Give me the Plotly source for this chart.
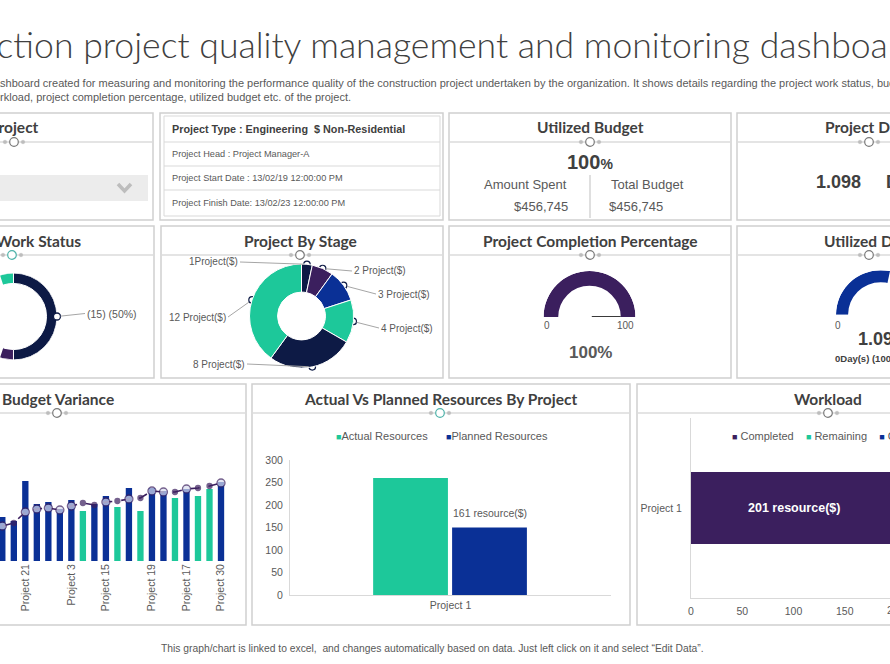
import numpy as np
import plotly.graph_objects as go

# ======================= DATA =======================
title_text = "Construction project quality management and monitoring dashboard"
subtitle_lines = [
    "Dashboard created for measuring and monitoring the performance quality of the construction project undertaken by the organization. It shows details regarding the project work status, budget variance,",
    "workload, project completion percentage, utilized budget etc. of the project.",
]
footnote_text = "This graph/chart is linked to excel,  and changes automatically based on data. Just left click on it and select \u201cEdit Data\u201d."

project_info_rows = [
    "Project Type : Engineering  $ Non-Residential",
    "Project Head : Project Manager-A",
    "Project Start Date : 13/02/19 12:00:00 PM",
    "Project Finish Date: 13/02/23 12:00:00 PM",
]

amount_spent = 456745
total_budget = 456745
project_duration = 1.098
utilized_duration = 1.098
completion_pct = 100
gauge_min, gauge_max = 0, 100

work_status_labels = ["Completed", "In Progress", "Not Started"]
work_status_values = [15, 5, 10]

stage_names = ["Initiation", "Planning", "Design", "Procurement", "Construction", "Closure"]
stage_values = [1, 2, 3, 4, 8, 12]
stage_text = ["1Project($)", "2 Project($)", "3 Project($)", "4 Project($)", "8 Project($)", "12 Project($)"]

bv_projects = ["Project 12", "Project 8", "Project 21", "Project 5", "Project 26", "Project 9",
               "Project 3", "Project 22", "Project 11", "Project 15", "Project 28", "Project 6",
               "Project 24", "Project 19", "Project 2", "Project 27", "Project 17", "Project 13",
               "Project 4", "Project 30"]
bv_actual = [44, 40, 80, 57, 59, 52, 61, 50, 57, 65, 54, 73, 50, 73, 70, 63, 72, 65, 72, 79]
bv_planned = [35, 38, 49, 52, 53, 51, 55, 58, 56, 59, 60, 62, 63, 70, 69, 69, 72, 73, 75, 78]
bv_tick_projects = ["Project 21", "Project 3", "Project 15", "Project 19", "Project 17", "Project 30"]

res_projects = ["Project 1"]
res_series = ["Actual Resources", "Planned Resources"]
res_actual = [260]
res_planned = [150]
res_planned_label = [161]
res_ticks = [0, 50, 100, 150, 200, 250, 300]

wl_projects = ["Project 1"]
wl_series = ["Completed", "Remaining", "Capacity"]
wl_completed = [201]
wl_remaining = [60]
wl_capacity = [40]
wl_ticks = [0, 50, 100, 150, 200]

# ======================= STYLE =======================
W, H = 890, 664
NAVY = "#0d1a45"
PURPLE = "#3b1f5e"
BLUE = "#0a3096"
TEAL = "#1dc89a"
GRAY = "#595959"
DARK = "#404040"
BORDER = "#d0d0d0"
DIVIDER = "#c9c9c9"
ORN_GRAY = "#7a7a7a"
ORN_TEAL = "#4fb3aa"
ARIAL = "Liberation Sans, Arial, sans-serif"
GOTHIC = "Lato, sans-serif"

ws_colors = [NAVY, PURPLE, TEAL]
stage_colors = [NAVY, PURPLE, BLUE, TEAL, NAVY, TEAL]
bv_big_marker_idx = {0, 2, 3, 4, 5, 6, 9, 11, 13, 14, 16, 19}


def X(px):
    return px / W


def Y(py):
    return 1 - py / H


shapes, annotations = [], []


def add_rect(x0, y0, x1, y1, line=BORDER, fill="white", lw=1.5):
    shapes.append(dict(type="rect", xref="paper", yref="paper", x0=X(x0), x1=X(x1), y0=Y(y1), y1=Y(y0),
                       line=dict(color=line, width=lw), fillcolor=fill, layer="below"))


def add_line(x0, y0, x1, y1, color=DIVIDER, lw=1):
    shapes.append(dict(type="line", xref="paper", yref="paper", x0=X(x0), x1=X(x1), y0=Y(y0), y1=Y(y1),
                       line=dict(color=color, width=lw), layer="below"))


def add_circle(cx, cy, r, fill, line, lw=1):
    shapes.append(dict(type="circle", xref="paper", yref="paper", x0=X(cx - r), x1=X(cx + r),
                       y0=Y(cy + r), y1=Y(cy - r), fillcolor=fill,
                       line=dict(color=line, width=lw), layer="below"))


def add_text(x, y, s, size=11, color=GRAY, family=ARIAL, weight=None, xanchor="center", yanchor="middle"):
    font = dict(size=size, color=color, family=family)
    if weight:
        font["weight"] = weight
    annotations.append(dict(xref="paper", yref="paper", x=X(x), y=Y(y), text=s, showarrow=False,
                            font=font, xanchor=xanchor, yanchor=yanchor))


def ornament(cx, cy, color):
    for d in (-9, 9):
        add_circle(cx + d, cy, 1.8, "#bdbdbd", "#bdbdbd", 0.5)
    add_circle(cx, cy, 4.3, "white", color, 1.2)


# ---------------- header ----------------
add_text(-128, 45, title_text, size=35.6, color=DARK, family=GOTHIC, weight=300, xanchor="left")
add_text(-17, 90, "<br>".join(subtitle_lines), size=11, color=GRAY, xanchor="left")
annotations[-1]["align"] = "left"
add_text(432, 648, footnote_text, size=10.3, color=GRAY)

# ---------------- panels ----------------
PANELS = [
    dict(box=(-5, 113, 153, 220), title="Project", tx=14, ox=14, ty=127, dy=142, oc=ORN_GRAY),
    dict(box=(160, 113, 443, 220)),
    dict(box=(449, 113, 731, 220), title="Utilized Budget", tx=590, ox=590, ty=127, dy=142, oc=ORN_GRAY),
    dict(box=(737, 113, 900, 220), title="Project Duration", tx=823, ox=869, ty=127, dy=142, oc=ORN_GRAY, left=True),
    dict(box=(-5, 226, 154, 378), title="Project Work Status", tx=12, ox=12, ty=241, dy=255, oc=ORN_TEAL),
    dict(box=(161, 226, 443, 378), title="Project By Stage", tx=300, ox=300, ty=241, dy=255, oc=ORN_GRAY),
    dict(box=(449, 226, 731, 378), title="Project Completion Percentage", tx=590, ox=590, ty=241, dy=255, oc=ORN_GRAY),
    dict(box=(737, 226, 900, 378), title="Utilized Duration", tx=822, ox=869, ty=241, dy=255, oc=ORN_GRAY, left=True),
    dict(box=(-5, 384, 246, 625), title="Budget Variance", tx=58, ox=57, ty=399, dy=413, oc=ORN_GRAY),
    dict(box=(252, 384, 630, 625), title="Actual Vs Planned Resources By Project", tx=440, ox=440, ty=399, dy=413, oc=ORN_TEAL),
    dict(box=(637, 384, 900, 625), title="Workload", tx=828, ox=828, ty=399, dy=413, oc=ORN_GRAY),
]
for p in PANELS:
    x0, y0, x1, y1 = p["box"]
    add_rect(x0, y0, x1, y1)
    if "title" in p:
        add_line(x0 + 1, p["dy"], x1 - 1, p["dy"])
        ornament(p["ox"], p["dy"], p["oc"])
        add_text(p["tx"], p["ty"], p["title"], size=15.5, color=DARK, family=GOTHIC, weight=700,
                 xanchor="left" if p.get("left") else "center")

# Project selector
shapes.append(dict(type="rect", xref="paper", yref="paper", x0=X(-5), x1=X(148), y0=Y(201), y1=Y(175),
                   fillcolor="#ececec", line=dict(width=0), layer="below"))
shapes.append(dict(type="path", xref="paper", yref="paper",
                   path=f"M{X(118)},{Y(184)} L{X(124.5)},{Y(191)} L{X(131)},{Y(184)}",
                   line=dict(color="#bdbdbd", width=3.5), layer="below"))

# Project info table
add_rect(164, 116, 440, 216, line="#d9d9d9", lw=1)
for yy in (142, 166, 190):
    add_line(164, yy, 440, yy, color="#d9d9d9")
row_y = [129, 154, 178, 203]
for i, (txt, yy) in enumerate(zip(project_info_rows, row_y)):
    add_text(170, yy, txt, size=10.8 if i == 0 else 9.2, color=DARK if i == 0 else GRAY,
             weight=700 if i == 0 else None, xanchor="left")

# Utilized budget
add_text(590, 162, f"{amount_spent / total_budget * 100:.0f}<span style='font-size:14px'>%</span>",
         size=20, color=DARK, weight=700)
add_text(525, 184, "Amount Spent", size=13, color=GRAY)
add_text(541, 206, f"${amount_spent:,}", size=13, color=GRAY)
add_text(647, 184, "Total Budget", size=13, color=GRAY)
add_text(636, 206, f"${total_budget:,}", size=13, color=GRAY)
add_line(590, 175, 590, 218, color="#bfbfbf")

# Project duration
add_text(838, 182, f"{project_duration:.3f}", size=18, color=DARK, weight=700)
add_text(884, 182, "Day(s)", size=18, color=DARK, weight=700, xanchor="left")

# ======================= FIGURE =======================
fig = go.Figure()

# ---- Project Work Status donut (polar) ----
WS_HOLE = 0.76
ws_total = sum(work_status_values)
ws_cum = np.cumsum([0] + work_status_values[:-1])
ws_theta = [(c + v / 2) / ws_total * 360 for c, v in zip(ws_cum, work_status_values)]
ws_width = [v / ws_total * 360 for v in work_status_values]
fig.add_trace(go.Barpolar(theta=ws_theta, width=ws_width, r=[1 - WS_HOLE] * len(ws_theta), base=WS_HOLE,
                          marker=dict(color=ws_colors, line=dict(color="white", width=1)),
                          subplot="polar", showlegend=False, hoverinfo="skip"))
fig.add_trace(go.Scatterpolar(theta=[ws_theta[0]], r=[1], mode="markers", cliponaxis=False,
                              marker=dict(size=7, color="white", line=dict(color=NAVY, width=1.3)),
                              subplot="polar", showlegend=False, hoverinfo="skip"))
WS_CX, WS_CY, WS_R = 13.5, 316.5, 43.5
ang = np.radians(ws_theta[0])
mx, my = WS_CX + WS_R * np.sin(ang), WS_CY - WS_R * np.cos(ang)
annotations.append(dict(xref="paper", yref="paper", x=X(mx), y=Y(my), ax=85 - mx, ay=313.5 - my,
                        xanchor="left", showarrow=True, arrowhead=0, arrowwidth=1, arrowcolor="#a6a6a6",
                        standoff=3.5,
                        text=f"({work_status_values[0]}) ({work_status_values[0] / ws_total:.0%})",
                        font=dict(size=10.5, color=GRAY, family=ARIAL)))

# ---- Project by stage donut ----
ST_CX, ST_CY, ST_R = 301.5, 316, 52
fig.add_trace(go.Pie(labels=stage_names, values=stage_values, hole=0.46, sort=False, direction="clockwise",
                     rotation=0, textinfo="none", hoverinfo="skip", showlegend=False,
                     marker=dict(colors=stage_colors, line=dict(color="white", width=1)),
                     domain=dict(x=[X(ST_CX - ST_R), X(ST_CX + ST_R)], y=[Y(ST_CY + ST_R), Y(ST_CY - ST_R)])))
st_total = sum(stage_values)
st_cum = np.cumsum([0] + stage_values[:-1])
st_mid = [(c + v / 2) / st_total * 360 for c, v in zip(st_cum, stage_values)]
fig.add_trace(go.Scatterpolar(theta=st_mid, r=[1] * len(st_mid), mode="markers", cliponaxis=False,
                              marker=dict(size=6.5, color="white", line=dict(color=NAVY, width=1.2)),
                              subplot="polar2", showlegend=False, hoverinfo="skip"))
STAGE_LABEL_POS = [(240, 262, "right"), (352, 271, "left"), (376, 294, "left"),
                   (379, 328, "left"), (247, 364, "right"), (228, 317, "right")]
for a, lbl, (lx, ly, side) in zip(st_mid, stage_text, STAGE_LABEL_POS):
    rad = np.radians(a)
    px_, py_ = ST_CX + ST_R * np.sin(rad), ST_CY - ST_R * np.cos(rad)
    annotations.append(dict(xref="paper", yref="paper", x=X(px_), y=Y(py_), ax=lx - px_, ay=ly - py_,
                            xanchor=side, showarrow=True, arrowhead=0, arrowwidth=1, arrowcolor="#a6a6a6",
                            standoff=3.5, text=lbl, font=dict(size=10, color=GRAY, family=ARIAL)))

# ---- Completion gauge ----
G_HOLE = 0.68
frac = (completion_pct - gauge_min) / (gauge_max - gauge_min)
fig.add_trace(go.Barpolar(theta=[frac * 180 / 2], width=[frac * 180], r=[1 - G_HOLE], base=G_HOLE,
                          marker=dict(color=PURPLE, line=dict(width=0)),
                          subplot="polar3", showlegend=False, hoverinfo="skip"))
fig.add_trace(go.Scatterpolar(theta=[frac * 180] * 2, r=[0.05, G_HOLE], mode="lines", cliponaxis=False,
                              line=dict(color="#3a3a3a", width=2), subplot="polar3",
                              showlegend=False, hoverinfo="skip"))
add_text(547, 325, f"{gauge_min}", size=10, color=GRAY)
add_text(625, 325, f"{gauge_max}", size=10, color=GRAY)
add_text(590, 352, f"{completion_pct}%", size=17, color=GRAY, weight=700)

# ---- Utilized duration gauge ----
ufrac = utilized_duration / project_duration
fig.add_trace(go.Barpolar(theta=[ufrac * 180 / 2], width=[ufrac * 180], r=[1 - 0.73], base=0.73,
                          marker=dict(color=BLUE, line=dict(width=0)),
                          subplot="polar4", showlegend=False, hoverinfo="skip"))
fig.add_trace(go.Scatterpolar(theta=[ufrac * 180] * 2, r=[0.05, 0.73], mode="lines", cliponaxis=False,
                              line=dict(color="#3a3a3a", width=2), subplot="polar4",
                              showlegend=False, hoverinfo="skip"))
add_text(838, 325, "0", size=10, color=GRAY)
add_text(880, 339, f"{utilized_duration:.3f}", size=18, color=DARK, weight=700)
add_text(833, 358, f"{round(project_duration - utilized_duration)}Day(s) ({ufrac:.0%})",
         size=9.5, color=DARK, weight=700, xanchor="left")

# ---- Budget variance ----
bv_colors = [BLUE if a >= p else TEAL for a, p in zip(bv_actual, bv_planned)]
fig.add_trace(go.Bar(x=bv_projects, y=bv_actual, width=0.55, marker=dict(color=bv_colors, line=dict(width=0)),
                     xaxis="x", yaxis="y", showlegend=False, hoverinfo="skip"))
sizes = [8 if i in bv_big_marker_idx else 5 for i in range(len(bv_projects))]
fills = ["#d8dcef" if i in bv_big_marker_idx else PURPLE for i in range(len(bv_projects))]
fig.add_trace(go.Scatter(x=bv_projects, y=bv_planned, mode="lines+markers",
                         line=dict(color=PURPLE, width=1.6, dash="dash"),
                         marker=dict(size=sizes, color=fills, line=dict(color=PURPLE, width=1.3)),
                         xaxis="x", yaxis="y", showlegend=False, hoverinfo="skip"))

# ---- Actual vs planned ----
RES_OFF = (-0.241, 0.005)
RES_WIDTH = 0.233
fig.add_trace(go.Bar(x=res_projects, y=res_actual, name=res_series[0], offset=RES_OFF[0], width=RES_WIDTH,
                     marker=dict(color=TEAL, line=dict(width=0)), xaxis="x2", yaxis="y2",
                     showlegend=False, hoverinfo="skip"))
fig.add_trace(go.Bar(x=res_projects, y=res_planned, name=res_series[1], offset=RES_OFF[1], width=RES_WIDTH,
                     marker=dict(color=BLUE, line=dict(width=0)), xaxis="x2", yaxis="y2",
                     showlegend=False, hoverinfo="skip"))
for i, (v, lbl) in enumerate(zip(res_planned, res_planned_label)):
    annotations.append(dict(xref="x2", yref="y2", x=i + RES_OFF[1] + RES_WIDTH / 2, y=v,
                            yanchor="bottom", yshift=7, showarrow=False, text=f"{lbl} resource($)",
                            font=dict(size=10.5, color=GRAY, family=ARIAL)))
add_text(442, 436,
         f"<span style='color:{TEAL};font-size:9px'>\u25a0</span>{res_series[0]}"
         f"      <span style='color:{BLUE};font-size:9px'>\u25a0</span>{res_series[1]}",
         size=11, color=GRAY)

# ---- Workload ----
wl_base2 = [a + b for a, b in zip(wl_completed, wl_remaining)]
for vals, base, col, nm in [(wl_completed, None, PURPLE, wl_series[0]),
                            (wl_remaining, wl_completed, TEAL, wl_series[1]),
                            (wl_capacity, wl_base2, BLUE, wl_series[2])]:
    fig.add_trace(go.Bar(y=wl_projects, x=vals, base=base, orientation="h", width=0.4, name=nm,
                         marker=dict(color=col, line=dict(width=0)), xaxis="x3", yaxis="y3",
                         showlegend=False, hoverinfo="skip"))
annotations.append(dict(xref="x3", yref="y3", x=wl_completed[0] / 2, y=wl_projects[0],
                        text=f"{wl_completed[0]} resource($)", showarrow=False,
                        font=dict(size=12.5, color="white", family=ARIAL, weight=700)))
add_text(730, 436,
         "    ".join(f"<span style='color:{c};font-size:9px'>\u25a0</span> {n}"
                     for c, n in zip([PURPLE, TEAL, BLUE], wl_series)),
         size=11, color=GRAY, xanchor="left")
WL_X0, WL_PPU = 691, 1.025
WL_MAX = (W - WL_X0) / WL_PPU
for t in wl_ticks:
    if t > WL_MAX:
        add_text(WL_X0 + t * WL_PPU, 610, str(t), size=10.5, color=GRAY)


def polar_cfg(x0, x1, y0, y1, sector, rotation):
    return dict(domain=dict(x=[X(x0), min(1, X(x1))], y=[Y(y1), Y(y0)]), sector=sector,
                bgcolor="rgba(0,0,0,0)",
                radialaxis=dict(visible=False, range=[0, 1]),
                angularaxis=dict(visible=False, rotation=rotation, direction="clockwise"))


axis_font = dict(size=10.5, color=GRAY, family=ARIAL)
fig.update_layout(
    width=W, height=H, autosize=False,
    margin=dict(l=0, r=0, t=0, b=0, pad=0, autoexpand=False),
    paper_bgcolor="white", plot_bgcolor="rgba(0,0,0,0)",
    barmode="overlay", showlegend=False,
    shapes=shapes, annotations=annotations,
    polar=polar_cfg(0, 57, 273, 360, [-108, 108], 90),
    polar2=polar_cfg(ST_CX - ST_R, ST_CX + ST_R, ST_CY - ST_R, ST_CY + ST_R, [0, 360], 90),
    polar3=polar_cfg(543.5, 635.5, 271, 317, [0, 180], 180),
    polar4=polar_cfg(836, 890, 270, 315, [78, 180], 180),
    xaxis=dict(domain=[0, X(240)], anchor="y", automargin=False, type="category", range=[-0.2, 20.65],
               tickmode="array", tickvals=bv_tick_projects, ticktext=bv_tick_projects, tickangle=-90,
               tickfont=dict(size=10.5, color=GRAY, family=ARIAL), showgrid=False, zeroline=False,
               showline=False, ticks=""),
    yaxis=dict(domain=[Y(561), Y(430)], anchor="x", automargin=False, range=[0, 131], visible=False),
    xaxis2=dict(domain=[X(290), X(611)], anchor="y2", automargin=False, type="category", range=[-0.5, 0.5],
                tickfont=axis_font, showgrid=False, zeroline=False, showline=True, linecolor="#d9d9d9",
                ticks=""),
    yaxis2=dict(domain=[Y(595), Y(460)], anchor="x2", automargin=False, range=[0, 300], tickmode="array",
                tickvals=res_ticks, tickfont=axis_font, showgrid=False, zeroline=False, showline=True,
                linecolor="#d9d9d9", ticks="", ticklabelstandoff=4),
    xaxis3=dict(domain=[X(WL_X0), 1], anchor="y3", automargin=False, range=[0, WL_MAX], tickmode="array",
                tickvals=wl_ticks, tickfont=axis_font, showgrid=False, zeroline=False, showline=True,
                linecolor="#d9d9d9", ticks="", ticklabelstandoff=3),
    yaxis3=dict(domain=[Y(598), Y(418)], anchor="x3", automargin=False, type="category", range=[-0.5, 0.5],
                tickfont=axis_font, showgrid=False, zeroline=False, showline=True, linecolor="#d9d9d9",
                ticks="", ticklabelstandoff=6),
)

fig.write_html("out.html")
